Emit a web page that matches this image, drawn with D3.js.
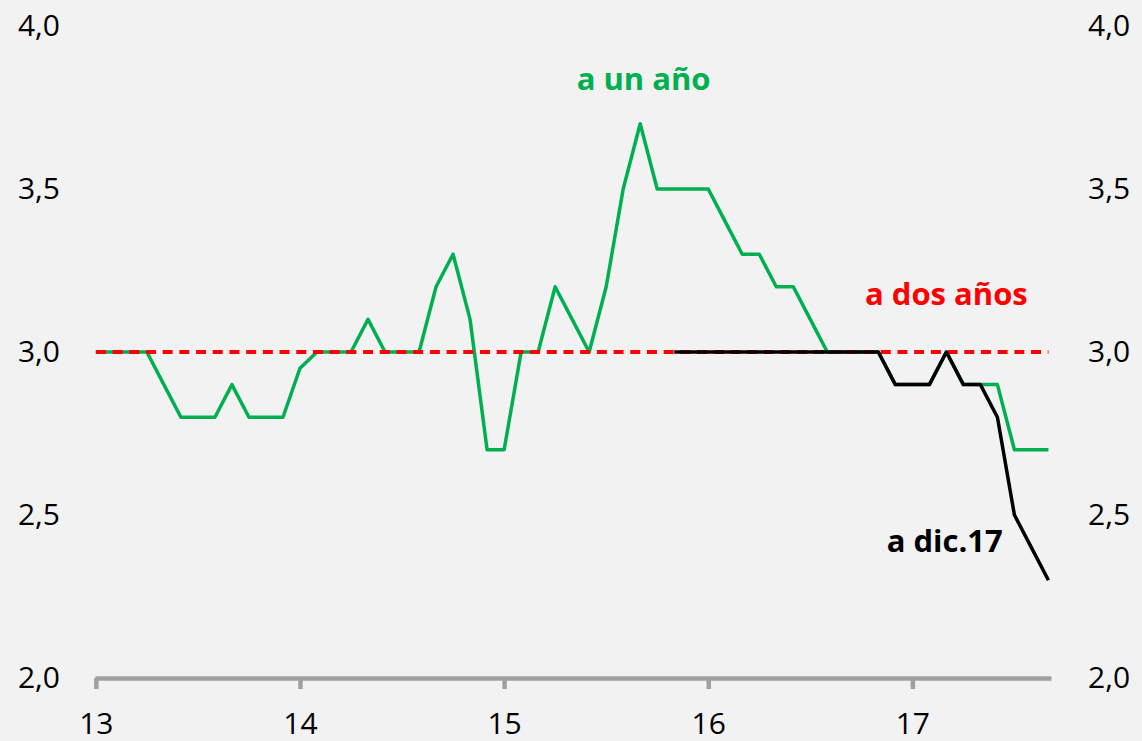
<!DOCTYPE html>
<html>
<head>
<meta charset="utf-8">
<script src="https://cdn.jsdelivr.net/npm/d3@7"></script>
<style>
  html, body { margin: 0; padding: 0; background: #f2f2f2; }
  svg { display: block; }
</style>
</head>
<body>
<script>
// Monthly data, Jan 2013 .. Sep 2017 (month index 0..56)
const yearLabels = ['13', '14', '15', '16', '17']
const yearTickMonths = [0, 12, 24, 36, 48]
const yTicks = [2.0, 2.5, 3.0, 3.5, 4.0]

const unAno = [
  3.0, 3.0, 3.0, 3.0, 2.9, 2.8, 2.8, 2.8, 2.9, 2.8, 2.8, 2.8,
  2.95, 3.0, 3.0, 3.0, 3.1, 3.0, 3.0, 3.0, 3.2, 3.3, 3.1, 2.7,
  2.7, 3.0, 3.0, 3.2, 3.1, 3.0, 3.2, 3.5, 3.7, 3.5, 3.5, 3.5,
  3.5, 3.4, 3.3, 3.3, 3.2, 3.2, 3.1, 3.0, 3.0, 3.0, 3.0, 2.9,
  2.9, 2.9, 3.0, 2.9, 2.9, 2.9, 2.7, 2.7, 2.7
]
const dosAnos = unAno.map(() => 3.0)
const dic17Start = 34
const dic17 = [
  3.0, 3.0, 3.0, 3.0, 3.0, 3.0, 3.0, 3.0, 3.0, 3.0, 3.0, 3.0, 3.0,
  2.9, 2.9, 2.9, 3.0, 2.9, 2.9, 2.8, 2.5, 2.4, 2.3
]

const width = 1142
const height = 741
const font = "'Open Sans', 'DejaVu Sans', sans-serif"

const x = d3.scaleLinear().domain([-0.05, 56.15]).range([95, 1051])
const y = d3.scaleLinear().domain([2, 4]).range([678, 26])

const fmt = (v) => d3.format('.1f')(v).replace('.', ',')

const svg = d3.select('body').append('svg')
  .attr('width', width)
  .attr('height', height)
  .attr('viewBox', [0, 0, width, height].join(' '))

svg.append('rect').attr('width', width).attr('height', height).attr('fill', '#f2f2f2')

// X axis
const xAxis = svg.append('g')
  .attr('transform', `translate(0, ${y(2)})`)
  .call(d3.axisBottom(x).tickValues(yearTickMonths).tickSize(11).tickSizeOuter(0)
    .tickFormat((d, i) => yearLabels[i]))
xAxis.select('.domain').attr('stroke', '#a0a0a0').attr('stroke-width', 4.5)
xAxis.selectAll('.tick line').attr('stroke', '#a0a0a0').attr('stroke-width', 4.5)
xAxis.selectAll('.tick text')
  .attr('y', 56).attr('dy', 0)
  .attr('fill', '#000')
  .style('font-family', font).style('font-size', '30px')

// Y axes (labels only)
const yLeft = svg.append('g')
  .attr('transform', 'translate(60, 0)')
  .call(d3.axisLeft(y).tickValues(yTicks).tickSize(0).tickPadding(0).tickFormat(fmt))
const yRight = svg.append('g')
  .attr('transform', 'translate(1088, 0)')
  .call(d3.axisRight(y).tickValues(yTicks).tickSize(0).tickPadding(0).tickFormat(fmt))
for (const g of [yLeft, yRight]) {
  g.select('.domain').remove()
  g.selectAll('.tick text')
    .attr('fill', '#000')
    .style('font-family', font).style('font-size', '30px')
}

const line = d3.line()
  .x(d => x(d[0]))
  .y(d => y(d[1]))

// a un año
svg.append('path')
  .datum(unAno.map((v, i) => [i, v]))
  .attr('d', line)
  .attr('fill', 'none')
  .attr('stroke', '#00b050')
  .attr('stroke-width', 3.5)
  .attr('stroke-linejoin', 'round')

// a dos años
svg.append('path')
  .datum(dosAnos.map((v, i) => [i, v]))
  .attr('d', line)
  .attr('fill', 'none')
  .attr('stroke', '#ff0000')
  .attr('stroke-width', 4)
  .attr('stroke-dasharray', '10,6.7')

// a dic.17
svg.append('path')
  .datum(dic17.map((v, i) => [i + dic17Start, v]))
  .attr('d', line)
  .attr('fill', 'none')
  .attr('stroke', '#000')
  .attr('stroke-width', 3.5)
  .attr('stroke-linejoin', 'round')

// Labels
const labels = [
  { text: 'a un año', color: '#00b050', m: 32.2, v: 3.805 },
  { text: 'a dos años', color: '#ff0000', m: 50.0, v: 3.145 },
  { text: 'a dic.17', color: '#000', m: 49.9, v: 2.387 }
]
svg.selectAll('.series-label')
  .data(labels)
  .enter().append('text')
  .attr('class', 'series-label')
  .attr('x', d => x(d.m))
  .attr('y', d => y(d.v))
  .attr('text-anchor', 'middle')
  .attr('fill', d => d.color)
  .style('font-family', font)
  .style('font-weight', 'bold')
  .style('font-size', '31px')
  .text(d => d.text)
</script>
</body>
</html>
